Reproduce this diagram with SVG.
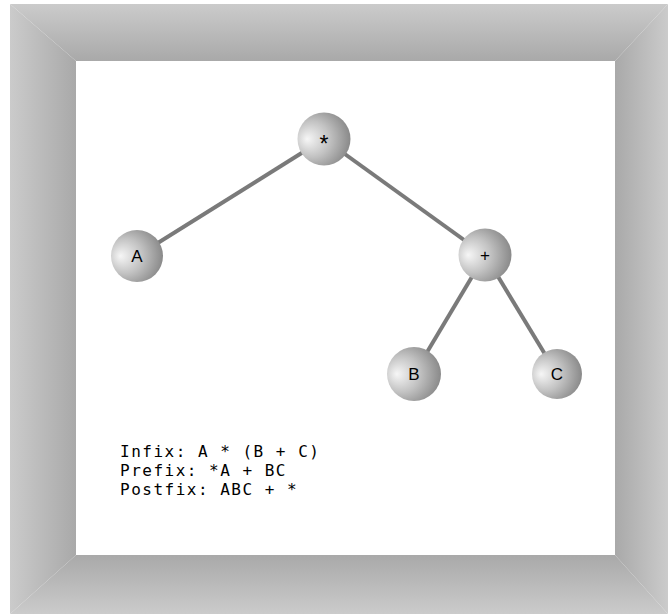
<svg xmlns="http://www.w3.org/2000/svg" width="668" height="614" viewBox="0 0 668 614">
<style>
.edge{stroke:#7a7a7a;stroke-width:4;fill:none}
.node{fill:url(#ball)}
.lbl{font-family:"Liberation Sans",Arial,sans-serif;font-size:17px;fill:#000;text-anchor:middle}
.code{font-family:"DejaVu Sans Mono",monospace;font-size:16px;fill:#000;letter-spacing:1.5px}
</style>
<defs>
<radialGradient id="ball" cx="0.35" cy="0.5" r="0.68" fx="0.18" fy="0.5">
<stop offset="0" stop-color="#f6f6f6"/>
<stop offset="0.5" stop-color="#c2c2c2"/>
<stop offset="1" stop-color="#858585"/>
</radialGradient>
<linearGradient id="gTop" x1="0" y1="0" x2="0" y2="1"><stop offset="0" stop-color="#cbcbcb"/><stop offset="1" stop-color="#a9a9a9"/></linearGradient>
<linearGradient id="gLeft" x1="0" y1="0" x2="1" y2="0"><stop offset="0" stop-color="#cbcbcb"/><stop offset="1" stop-color="#a9a9a9"/></linearGradient>
<linearGradient id="gBot" x1="0" y1="1" x2="0" y2="0"><stop offset="0" stop-color="#cbcbcb"/><stop offset="1" stop-color="#a9a9a9"/></linearGradient>
<linearGradient id="gRight" x1="1" y1="0" x2="0" y2="0"><stop offset="0" stop-color="#cbcbcb"/><stop offset="1" stop-color="#a9a9a9"/></linearGradient>
</defs>
<rect width="668" height="614" fill="#fff"/>
<g id="frame">
<polygon points="10,4 668,4 615,61 76,61" fill="url(#gTop)"/>
<polygon points="10,4 76,61 76,555 10,614" fill="url(#gLeft)"/>
<polygon points="76,555 615,555 668,614 10,614" fill="url(#gBot)"/>
<polygon points="668,4 668,614 615,555 615,61" fill="url(#gRight)"/>
<rect x="76" y="61" width="539" height="494" fill="#fff"/>
</g>
<g id="connectors">
<line class="edge" x1="324" y1="139" x2="137" y2="256"/>
<line class="edge" x1="324" y1="139" x2="485" y2="255"/>
<line class="edge" x1="485" y1="255" x2="414" y2="374"/>
<line class="edge" x1="485" y1="255" x2="557" y2="374"/>
</g>
<g id="node-star"><circle class="node" cx="324" cy="139" r="26.5"/><text class="lbl" x="324" y="152" style="font-size:23px">*</text></g>
<g id="node-A"><circle class="node" cx="137" cy="256" r="26"/><text class="lbl" x="137" y="262">A</text></g>
<g id="node-plus"><circle class="node" cx="485" cy="255" r="26.5"/><text class="lbl" x="485" y="261">+</text></g>
<g id="node-B"><circle class="node" cx="414" cy="374" r="27"/><text class="lbl" x="414" y="380">B</text></g>
<g id="node-C"><circle class="node" cx="557" cy="374" r="25"/><text class="lbl" x="557" y="380">C</text></g>
<g id="notation">
<text class="code" x="120" y="456.5">Infix: A * (B + C)</text>
<text class="code" x="120" y="475.5">Prefix: *A + BC</text>
<text class="code" x="120" y="494.5">Postfix: ABC + *</text>
</g>
</svg>
